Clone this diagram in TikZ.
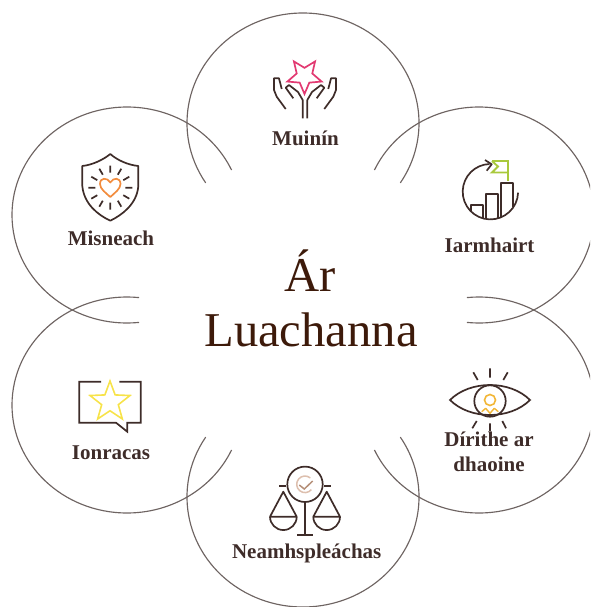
\documentclass[tikz,border=0pt]{standalone}
\usepackage{fontspec}
\setmainfont{Liberation Serif}
\usepackage{xcolor}
\usetikzlibrary{shapes.geometric,arrows.meta}
\definecolor{ringcol}{HTML}{6E6462}
\definecolor{inkcol}{HTML}{3E2C29}
\definecolor{titlecol}{HTML}{3D1A0A}
\definecolor{pinkcol}{HTML}{E23A72}
\definecolor{greencol}{HTML}{A9C93C}
\definecolor{ambercol}{HTML}{F2B636}
\definecolor{orangecol}{HTML}{F28C3E}
\definecolor{yellowcol}{HTML}{F7E34A}
\definecolor{checkcol}{HTML}{B58F78}
\definecolor{haloecol}{HTML}{DDBFAE}
\tikzset{
  ring/.style={draw=ringcol,line width=1.15pt},
  iconline/.style={draw=inkcol,line width=1.7pt},
  valuelabel/.style={font=\fontsize{21}{25.7}\selectfont\bfseries,text=inkcol,anchor=base,inner sep=0pt},
  titlelabel/.style={font=\fontsize{48.6}{55}\selectfont,text=titlecol,anchor=base,inner sep=0pt},
}

\begin{document}
\begin{tikzpicture}[x=1pt,y=-1pt]
\useasboundingbox (0,0) rectangle (590,607);
\clip (0,0) rectangle (590,607);

\draw[ring] (303,123) ++(213:116pt and 110pt) arc[start angle=213,end angle=-33,x radius=116pt,y radius=110pt];
\draw[ring] (303,497) ++(147:116pt and 110pt) arc[start angle=147,end angle=393,x radius=116pt,y radius=110pt];
\draw[ring] (127,215) ++(276:115pt and 108pt) arc[start angle=276,end angle=24.6,x radius=115pt,y radius=108pt];
\draw[ring] (479,215) ++(-96:115pt and 108pt) arc[start angle=-96,end angle=155.4,x radius=115pt,y radius=108pt];
\draw[ring] (127,405) ++(84:115pt and 108pt) arc[start angle=84,end angle=335.4,x radius=115pt,y radius=108pt];
\draw[ring] (479,405) ++(96:115pt and 108pt) arc[start angle=96,end angle=-155.4,x radius=115pt,y radius=108pt];

\node[titlelabel] (titleone) at (310,291.7) {Ár};
\node[titlelabel] (titletwo) at (311,346.7) {Luachanna};

\node[valuelabel] (muinin) at (305.5,145.7) {Muinín};
\node[valuelabel] (iarmhairt) at (489.5,252.7) {Iarmhairt};
\node[valuelabel] (misneach) at (111,245.7) {Misneach};
\node[valuelabel] (ionracas) at (111,459) {Ionracas};
\node[valuelabel] (neamh) at (306.7,558) {Neamhspleáchas};
\node[valuelabel,align=center] (dirithe) at (489,471.7) {Dírithe ar\\dhaoine};

\node[star,star points=5,star point ratio=2.2,shape border rotate=180,draw=pinkcol,line width=1.7pt,minimum size=36pt,inner sep=0pt] (pinkstar) at (304.5,76) {};
\draw[iconline,line join=round] (285.7,109) -- (276.7,96.7) -- (274,90) -- (274,78.3) -- (279,78.3) -- (281.7,89);
\draw[iconline,line join=round] (302.7,118.3) -- (302.7,100) -- (298,92) -- (289,85) -- (285.7,87.7) -- (293.3,98.3);
\draw[iconline,line join=round] (324.3,109) -- (333.3,96.7) -- (336,90) -- (336,78.3) -- (331,78.3) -- (328.3,89);
\draw[iconline,line join=round] (307.3,118.3) -- (307.3,100) -- (312,92) -- (321,85) -- (324.3,87.7) -- (316.7,98.3);

\draw[iconline] (490.4,191.7) ++(-2:27.7pt) arc[start angle=-2,end angle=-268,radius=27.7pt];
\draw[iconline,line join=round] (485,160) -- (491.7,164.3) -- (486.7,170.7);
\draw[iconline,line join=round] (470.7,211) -- (470.7,205) -- (482.7,205) -- (482.7,218.3);
\draw[iconline,line join=round] (486,219) -- (486,194) -- (497.7,194) -- (497.7,218.3);
\draw[iconline,line join=round] (501,217.3) -- (501,183.3) -- (513.3,183.3) -- (513.3,207.3);
\draw[draw=greencol,line width=1.9pt,line join=miter] (492,161) -- (508,161) -- (508,181);
\draw[draw=greencol,line width=1.9pt,line join=miter] (508,172.5) -- (492,172.5) -- (498,166.5) -- (492,161);

\draw[iconline] (450,400) .. controls (470,380) and (510,380) .. (530,400) .. controls (510,420) and (470,420) .. (450,400) -- cycle;
\node[circle,draw=inkcol,line width=1.7pt,minimum size=31.4pt,inner sep=0pt] (iris) at (490,401) {};
\node[circle,draw=ambercol,line width=1.6pt,minimum size=11pt,inner sep=0pt] (pupil) at (490,400) {};
\draw[draw=ambercol,line width=1.4pt,line join=round] (481.7,411.7) -- (485.7,408.3) -- (490,413.3) -- (494.3,408.3) -- (498.3,411.7);
\draw[iconline] (490,368.3) -- (490,377.7) (473.3,372.3) -- (477.7,380) (507.7,372.3) -- (503.3,380);
\draw[iconline] (476.7,421) -- (472.3,428.3) (490,423.3) -- (490,431) (502.3,421) -- (506,428.3);

\node[circle,draw=inkcol,line width=1.7pt,minimum size=35.4pt,inner sep=0pt] (dial) at (305,484.3) {};
\draw[draw=haloecol,line width=1.5pt] (305,484.3) ++(50:8.3pt) arc[start angle=50,end angle=320,radius=8.3pt];
\draw[draw=checkcol,line width=1.5pt] (299.3,485) -- (304.3,489) -- (312.7,481);
\draw[iconline] (279,486) -- (dial.west |- 0,486) (dial.east |- 0,486) -- (330.7,486);
\draw[iconline] (dial.south) -- (305,535) (297.3,535) -- (312.7,535);
\draw[iconline,line join=round] (270,516.7) -- (283.3,491.7) -- (296.7,516.7) -- cycle;
\draw[iconline] (270,516.7) arc[start angle=180,end angle=360,radius=13.35pt];
\draw[iconline,line join=round] (313.3,516.7) -- (326.7,491.7) -- (340,516.7) -- cycle;
\draw[iconline] (313.3,516.7) arc[start angle=180,end angle=360,radius=13.35pt];

\draw[iconline,line join=round] (110.3,154) .. controls (117,160) and (128,165) .. (138.3,166) -- (138.3,186) .. controls (137,204) and (122,215) .. (110.3,220.7) .. controls (98,215) and (84,204) .. (82.3,186) -- (82.3,166) .. controls (92,165) and (103,160) .. (110.3,154) -- cycle;
\draw[draw=orangecol,line width=1.7pt,line join=round] (110.3,182.5) .. controls (107,177) and (100,177.5) .. (100,184) .. controls (100,189) and (106,193) .. (110.3,197) .. controls (114.5,193) and (120.5,189) .. (120.5,184) .. controls (120.5,177.5) and (113.5,177) .. (110.3,182.5) -- cycle;
\draw[iconline] (125.3,187.7) -- (132.3,187.7) (123.3,180.2) -- (129.3,176.7) (117.8,174.7) -- (121.3,168.7);
\draw[iconline] (110.3,172.7) -- (110.3,165.7) (102.8,174.7) -- (99.3,168.7) (97.3,180.2) -- (91.3,176.7);
\draw[iconline] (95.3,187.7) -- (88.3,187.7) (97.3,195.2) -- (91.3,198.7) (102.8,200.7) -- (99.3,206.7);
\draw[iconline] (110.3,202.7) -- (110.3,209.7) (117.8,200.7) -- (121.3,206.7) (123.3,195.2) -- (129.3,198.7);

\draw[iconline,line join=miter] (101,381.7) -- (79.3,381.7) -- (79.3,422.7) -- (116,422.7) -- (127.3,431.7) -- (127.3,422.7) -- (140.7,422.7) -- (140.7,381.7) -- (119.3,381.7);
\node[star,star points=5,star point ratio=2.4,draw=yellowcol,line width=1.6pt,minimum size=42pt,inner sep=0pt] (yellowstar) at (110,402) {};
\end{tikzpicture}
\end{document}
